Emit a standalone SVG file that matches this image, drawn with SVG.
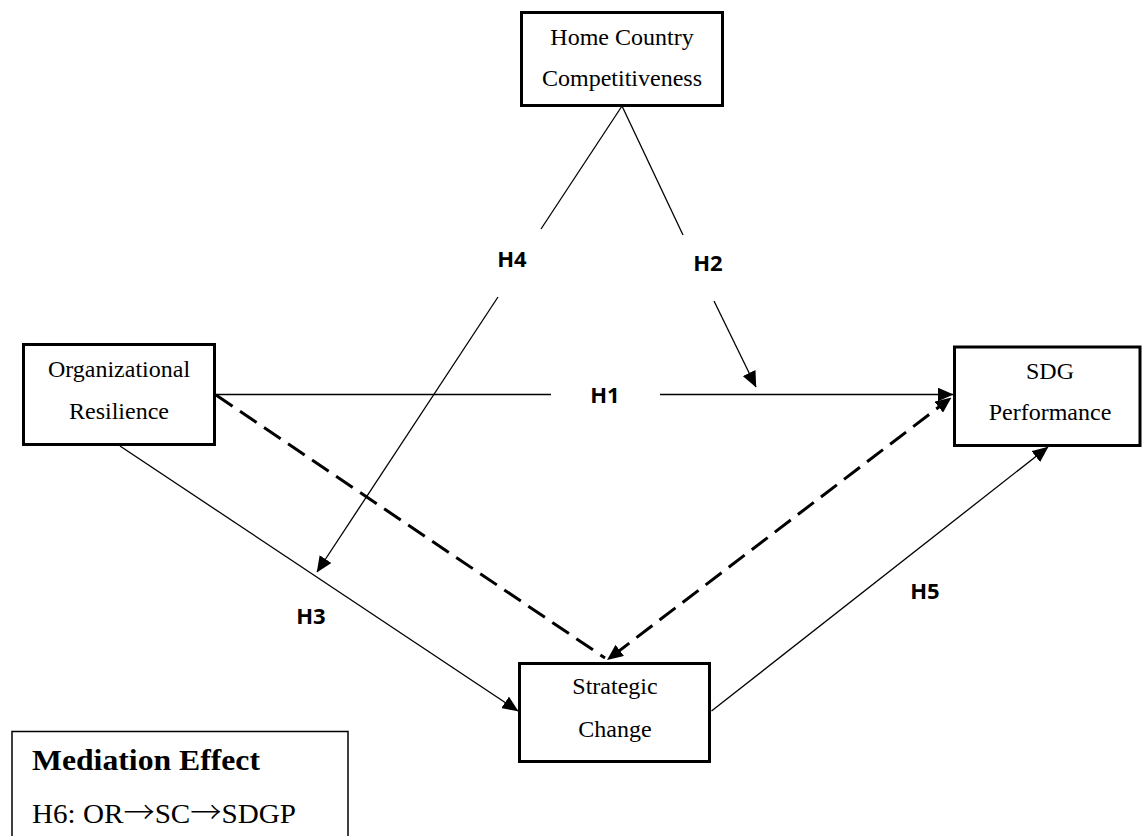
<svg xmlns="http://www.w3.org/2000/svg" width="1142" height="836" viewBox="0 0 1142 836">
  <style>
    .box { fill: #ffffff; stroke: #000000; stroke-width: 3; }
    .legend { fill: #ffffff; stroke: #000000; stroke-width: 1.5; }
    .lbl { font-family: "Liberation Serif", "Times New Roman", serif; font-size: 24px; fill: #000000; text-anchor: middle; }
    .hyp { font-family: "Open Sans", "Liberation Sans", sans-serif; font-size: 22px; font-weight: bold; fill: #000000; text-anchor: middle; }
    .thin { stroke: #000000; stroke-width: 1.3; fill: none; }
    .dash { stroke: #000000; stroke-width: 3; fill: none; stroke-dasharray: 20 9; }
    .arw { font-family: "Noto Sans CJK SC", "DejaVu Serif", serif; font-size: 30px; font-weight: 300; }
  </style>
  <defs>
    <marker id="arr" viewBox="0 0 16 14" refX="15.5" refY="7" markerWidth="16" markerHeight="14" markerUnits="userSpaceOnUse" orient="auto">
      <path d="M0,0 L16,7 L0,14 z" fill="#000000"/>
    </marker>
    <marker id="arrD" viewBox="0 0 16 14" refX="8" refY="7" markerWidth="16" markerHeight="14" markerUnits="userSpaceOnUse" orient="auto-start-reverse">
      <path d="M0,0 L16,7 L0,14 z" fill="#000000"/>
    </marker>
  </defs>

  <g id="node-home">
    <rect class="box" x="521.5" y="12.5" width="201" height="93"/>
    <text class="lbl" x="622" y="45">Home Country</text>
    <text class="lbl" x="622" y="86">Competitiveness</text>
  </g>
  <g id="node-or">
    <rect class="box" x="23.5" y="344.5" width="191" height="100"/>
    <text class="lbl" x="119" y="377">Organizational</text>
    <text class="lbl" x="119" y="419">Resilience</text>
  </g>
  <g id="node-sdg">
    <rect class="box" x="954.5" y="347" width="185.5" height="98.5"/>
    <text class="lbl" x="1050" y="379">SDG</text>
    <text class="lbl" x="1050" y="420">Performance</text>
  </g>
  <g id="node-sc">
    <rect class="box" x="519.5" y="663.5" width="190" height="98"/>
    <text class="lbl" x="615" y="694">Strategic</text>
    <text class="lbl" x="615" y="737">Change</text>
  </g>
  <g id="node-mediation">
    <rect class="legend" x="12" y="731.5" width="336" height="120"/>
    <text x="32" y="770" font-family="Liberation Serif, Times New Roman, serif" font-size="29" font-weight="bold" textLength="228" lengthAdjust="spacingAndGlyphs">Mediation Effect</text>
    <text x="32" y="823" font-family="Liberation Serif, Times New Roman, serif" font-size="28" textLength="264" lengthAdjust="spacingAndGlyphs">H6: OR<tspan class="arw">→</tspan>SC<tspan class="arw">→</tspan>SDGP</text>
  </g>

  <g id="connectors">
    <line class="thin" x1="622" y1="106" x2="541" y2="229"/>
    <line class="thin" x1="498" y1="297" x2="317" y2="572" marker-end="url(#arr)"/>
    <line class="thin" x1="622" y1="106" x2="683" y2="235"/>
    <line class="thin" x1="714" y1="301" x2="756" y2="387" marker-end="url(#arr)"/>
    <line class="thin" x1="216" y1="394.5" x2="551" y2="394.5"/>
    <line class="thin" x1="660" y1="394.5" x2="953" y2="394.5" marker-end="url(#arr)"/>
    <line class="thin" x1="120" y1="446" x2="518" y2="711" marker-end="url(#arr)"/>
    <line class="thin" x1="711.5" y1="711" x2="1048" y2="447" marker-end="url(#arr)"/>
    <line class="dash" x1="216" y1="395" x2="605" y2="658"/>
    <line class="dash" x1="613.4" y1="655.2" x2="945.1" y2="402.3" marker-start="url(#arrD)" marker-end="url(#arrD)"/>
  </g>

  <g id="labels">
    <text class="hyp" x="512" y="267">H4</text>
    <text class="hyp" x="708" y="271">H2</text>
    <text class="hyp" x="605" y="403">H1</text>
    <text class="hyp" x="311" y="624">H3</text>
    <text class="hyp" x="925" y="599">H5</text>
  </g>
</svg>
